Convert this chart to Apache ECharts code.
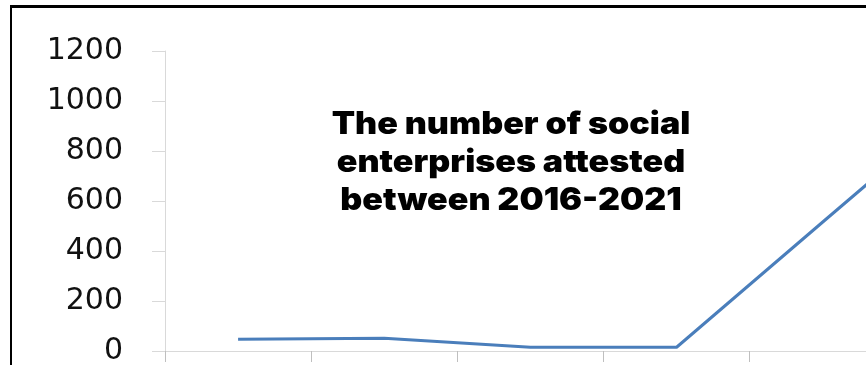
<!DOCTYPE html>
<html>
<head>
<meta charset="utf-8">
<script src="https://cdn.jsdelivr.net/npm/echarts@6/dist/echarts.min.js"></script>
<style>
  html, body { margin: 0; padding: 0; background: #fff; overflow: hidden; }
  #wrap { position: relative; width: 866px; height: 365px; overflow: hidden; }
  /* wider than the window: the reference is cropped on the right */
  #chart { position: absolute; left: 0; top: 0; width: 1100px; height: 365px; }
  .frame {
    position: absolute;
    left: 10px;
    top: 5px;
    width: 900px;
    height: 400px;
    border-top: 3px solid #000;
    border-left: 2px solid #000;
    pointer-events: none;
  }
</style>
</head>
<body>
<div id="wrap">
  <div id="chart"></div>
  <div class="frame"></div>
</div>
<script>
// the 2021 point sits outside the visible area
const years = ['2016', '2017', '2018', '2019', '2020', '2021']
const enterprises = [47, 51, 15, 15, 516, 1015]
const yTicks = { min: 0, max: 1200, step: 200 }
const titleLines = ['The number of social', 'enterprises attested', 'between 2016-2021']

const chart = echarts.init(document.getElementById('chart'))

chart.setOption({
  animation: false,
  grid: { left: 165, top: 51, height: 300, width: 877, outerBoundsMode: 'none' },
  xAxis: {
    type: 'category',
    data: years,
    boundaryGap: true,
    axisLine: { lineStyle: { color: '#d9d9d9', width: 1 } },
    axisTick: { show: true, length: 11, lineStyle: { color: '#bfbfbf' } },
    axisLabel: { show: false },
    splitLine: { show: false },
  },
  yAxis: {
    type: 'value',
    min: yTicks.min,
    max: yTicks.max,
    interval: yTicks.step,
    axisLine: { show: true, lineStyle: { color: '#d9d9d9', width: 1 } },
    axisTick: { show: true, length: 13, lineStyle: { color: '#d9d9d9' } },
    axisLabel: {
      margin: 42,
      color: '#111',
      fontSize: 30,
      fontFamily: 'DejaVu Sans',
      formatter: (v) => String(v),
    },
    splitLine: { show: false },
  },
  graphic: [
    {
      type: 'text',
      x: 511,
      y: 106,
      scaleX: 1.1,
      style: {
        text: titleLines.join('\n'),
        align: 'center',
        verticalAlign: 'top',
        fontFamily: 'Inter',
        fontWeight: 900,
        fontSize: 31,
        lineHeight: 38,
        fill: '#000',
      },
    },
  ],
  series: [
    {
      name: 'Social enterprises',
      type: 'line',
      data: enterprises,
      symbol: 'none',
      lineStyle: { color: '#4a7ebb', width: 3 },
    },
  ],
})
</script>
</body>
</html>
